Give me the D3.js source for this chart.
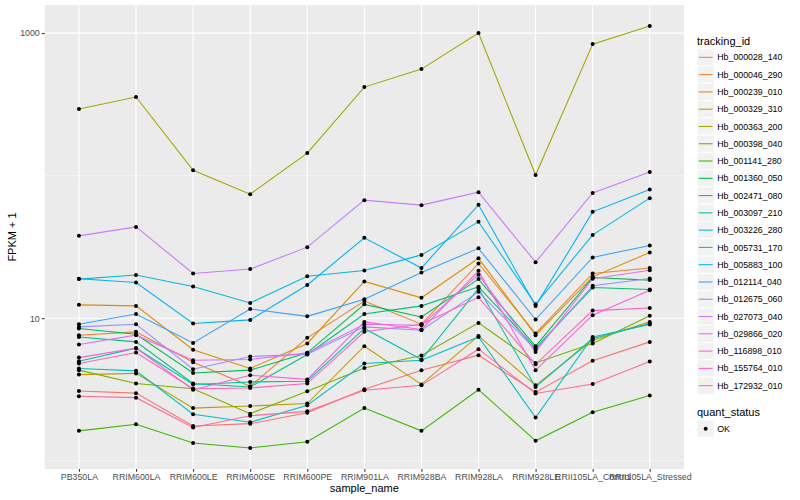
<!DOCTYPE html>
<html>
<head>
<meta charset="utf-8">
<script src="https://cdn.jsdelivr.net/npm/d3@7"></script>
<style>
  body { margin: 0; background: #fff; }
  svg { font-family: "Liberation Sans", Arial, sans-serif; }
</style>
</head>
<body>
<svg id="chart" width="800" height="500"></svg>
<script>
// samples on the x axis
const samples = ["PB350LA", "RRIM600LA", "RRIM600LE", "RRIM600SE", "RRIM600PE", "RRIM901LA",
  "RRIM928BA", "RRIM928LA", "RRIM928LE", "RRII105LA_Control", "RRII105LA_Stressed"]

const trackIds = ["Hb_000028_140", "Hb_000046_290", "Hb_000239_010", "Hb_000329_310", "Hb_000363_200",
  "Hb_000398_040", "Hb_001141_280", "Hb_001360_050", "Hb_002471_080", "Hb_003097_210",
  "Hb_003226_280", "Hb_005731_170", "Hb_005883_100", "Hb_012114_040", "Hb_012675_060",
  "Hb_027073_040", "Hb_029866_020", "Hb_116898_010", "Hb_155764_010", "Hb_172932_010"]

// FPKM + 1, one array per gene, in sample order
const hb000028_140 = [3.08, 2.98, 1.75, 1.82, 2.17, 3.17, 4.32, 5.50, 3.03, 5.02, 6.82]
const hb000046_290 = [7.60, 8.02, 4.91, 3.33, 7.28, 13.2, 9.07, 24.2, 7.81, 20.6, 22.5]
const hb000239_010 = [12.4, 12.2, 6.01, 4.44, 6.65, 18.1, 13.9, 26.3, 7.60, 19.5, 28.9]
const hb000329_310 = [4.02, 4.10, 2.34, 2.42, 2.52, 6.36, 3.43, 7.51, 3.38, 7.01, 9.42]
const hb000363_200 = [293, 356, 109, 74.1, 144, 418, 559, 1000, 101, 837, 1120]
const hb000398_040 = [4.32, 3.48, 3.20, 2.14, 3.07, 4.48, 5.47, 9.27, 4.85, 6.65, 10.4]
const hb001141_280 = [1.62, 1.80, 1.33, 1.23, 1.36, 2.34, 1.62, 3.15, 1.38, 2.19, 2.87]
const hb001360_050 = [8.47, 7.72, 4.13, 4.32, 5.71, 12.5, 10.2, 18.8, 6.36, 19.3, 18.5]
const hb002471_080 = [7.39, 6.82, 3.48, 3.29, 5.56, 10.7, 12.2, 16.6, 6.19, 16.4, 15.9]
const hb003097_210 = [4.99, 6.16, 3.43, 3.57, 3.61, 8.47, 5.13, 16.2, 3.29, 7.20, 9.17]
const hb003226_280 = [4.44, 4.27, 2.12, 1.86, 2.45, 4.81, 5.07, 7.39, 2.01, 7.39, 9.03]
const hb005731_170 = [18.8, 20.1, 16.7, 12.8, 19.7, 21.6, 27.8, 47.4, 12.5, 38.4, 69.5]
const hb005883_100 = [18.9, 17.8, 9.17, 9.73, 17.1, 36.6, 22.5, 62.4, 12.2, 55.7, 80.0]
const hb012114_040 = [9.07, 10.7, 6.71, 11.6, 10.3, 13.6, 20.9, 30.9, 9.79, 26.7, 32.4]
const hb012675_060 = [8.69, 9.07, 4.39, 5.38, 5.59, 8.69, 8.24, 15.3, 6.03, 16.9, 19.0]
const hb027073_040 = [37.8, 43.7, 20.6, 22.1, 31.5, 67.3, 62.1, 76.6, 24.7, 75.7, 106]
const hb029866_020 = [6.54, 7.60, 5.07, 5.13, 5.71, 9.07, 8.92, 20.2, 5.80, 18.9, 21.7]
const hb116898_010 = [5.29, 6.16, 3.15, 3.98, 3.72, 9.42, 8.33, 21.5, 4.32, 10.5, 15.7]
const hb155764_010 = [4.81, 5.75, 3.20, 3.24, 3.48, 8.02, 9.07, 14.0, 4.75, 11.3, 11.8]
const hb172932_010 = [2.83, 2.77, 1.71, 2.07, 2.22, 3.12, 3.38, 6.06, 2.96, 3.45, 4.97]

const seriesValues = [hb000028_140, hb000046_290, hb000239_010, hb000329_310, hb000363_200,
  hb000398_040, hb001141_280, hb001360_050, hb002471_080, hb003097_210,
  hb003226_280, hb005731_170, hb005883_100, hb012114_040, hb012675_060,
  hb027073_040, hb029866_020, hb116898_010, hb155764_010, hb172932_010]

const yTicks = [10, 1000]
const yMinor = [1, 100]
const statusLevels = ["OK"]

// ggplot style hue palette (polar LUV -> sRGB)
function hcl(h, c, l) {
    const hr = h * Math.PI / 180
    const U = c * Math.cos(hr), V = c * Math.sin(hr)
    const Xn = 95.047, Yn = 100, Zn = 108.883
    const den = Xn + 15 * Yn + 3 * Zn
    const un = 4 * Xn / den, vn = 9 * Yn / den
    const Y = Yn * (l > 8 ? Math.pow((l + 16) / 116, 3) : l / 903.3)
    const u = U / (13 * l) + un, v = V / (13 * l) + vn
    const X = 9 * Y * u / (4 * v)
    const Z = -X / 3 - 5 * Y + 3 * Y / v
    const x = X / 100, y = Y / 100, z = Z / 100
    const lin = [
        3.240479 * x - 1.537150 * y - 0.498535 * z,
        -0.969256 * x + 1.875992 * y + 0.041556 * z,
        0.055648 * x - 0.204043 * y + 1.057311 * z
    ]
    const rgb = lin.map(t => {
        const g = t <= 0.0031308 ? 12.92 * t : 1.055 * Math.pow(t, 1 / 2.4) - 0.055
        return Math.round(Math.max(0, Math.min(1, g)) * 255)
    })
    return d3.rgb(rgb[0], rgb[1], rgb[2]).formatHex()
}

const colors = trackIds.map((d, i) => hcl(15 + i * 360 / trackIds.length, 100, 65))
const color = d3.scaleOrdinal().domain(trackIds).range(colors)

const panel = { left: 44.7, right: 684, top: 5, bottom: 469 }

const svg = d3.select('#chart')

svg.append('rect')
    .attr('width', 800).attr('height', 500)
    .attr('fill', 'white')

const xScale = d3.scalePoint()
    .domain(samples)
    .range([panel.left, panel.right])
    .padding(0.6)

// log extent of the data, expanded by 5% like ggplot
const allVals = seriesValues.flat()
const lo = Math.log10(d3.min(allVals)), hi = Math.log10(d3.max(allVals))
const pad = (hi - lo) * 0.05
const yScale = d3.scaleLog()
    .domain([Math.pow(10, lo - pad), Math.pow(10, hi + pad)])
    .range([panel.bottom, panel.top])

svg.append('rect')
    .attr('x', panel.left).attr('y', panel.top)
    .attr('width', panel.right - panel.left)
    .attr('height', panel.bottom - panel.top)
    .attr('fill', '#EBEBEB')

// grid
const grid = svg.append('g')
grid.selectAll('.minor')
    .data(yMinor)
    .enter().append('line')
    .attr('x1', panel.left).attr('x2', panel.right)
    .attr('y1', d => yScale(d)).attr('y2', d => yScale(d))
    .attr('stroke', 'white').attr('stroke-width', 0.53)
grid.selectAll('.major')
    .data(yTicks)
    .enter().append('line')
    .attr('x1', panel.left).attr('x2', panel.right)
    .attr('y1', d => yScale(d)).attr('y2', d => yScale(d))
    .attr('stroke', 'white').attr('stroke-width', 1.07)
grid.selectAll('.vmajor')
    .data(samples)
    .enter().append('line')
    .attr('x1', d => xScale(d)).attr('x2', d => xScale(d))
    .attr('y1', panel.top).attr('y2', panel.bottom)
    .attr('stroke', 'white').attr('stroke-width', 1.07)

const line = d3.line()
    .x((d, i) => xScale(samples[i]))
    .y(d => yScale(d))

const lineGroup = svg.append('g')
lineGroup.selectAll('path')
    .data(seriesValues)
    .enter().append('path')
    .attr('d', line)
    .attr('fill', 'none')
    .attr('stroke', (d, i) => color(trackIds[i]))
    .attr('stroke-width', 1.07)

seriesValues.forEach(vals => {
    lineGroup.selectAll(null)
        .data(vals)
        .enter().append('circle')
        .attr('cx', (d, i) => xScale(samples[i]))
        .attr('cy', d => yScale(d))
        .attr('r', 2)
        .attr('fill', 'black')
})

// axes
const xAxis = d3.axisBottom(xScale).tickSize(2.75).tickPadding(2.2)
const xg = svg.append('g')
    .attr('transform', `translate(0, ${panel.bottom})`)
    .call(xAxis)
xg.select('.domain').remove()
xg.selectAll('.tick line').attr('stroke', '#333333').attr('stroke-width', 1.07)
xg.selectAll('.tick text').attr('fill', '#4D4D4D').style('font-size', '8.8px')

const yAxis = d3.axisLeft(yScale).tickValues(yTicks).tickFormat(d3.format('d')).tickSize(2.75).tickPadding(2.2)
const yg = svg.append('g')
    .attr('transform', `translate(${panel.left}, 0)`)
    .call(yAxis)
yg.select('.domain').remove()
yg.selectAll('.tick line').attr('stroke', '#333333').attr('stroke-width', 1.07)
yg.selectAll('.tick text').attr('fill', '#4D4D4D').style('font-size', '8.8px')

svg.append('text')
    .attr('x', (panel.left + panel.right) / 2)
    .attr('y', 492)
    .attr('text-anchor', 'middle')
    .style('font-size', '11px')
    .text('sample_name')

svg.append('text')
    .attr('transform', `translate(16, ${(panel.top + panel.bottom) / 2}) rotate(-90)`)
    .attr('text-anchor', 'middle')
    .style('font-size', '11px')
    .text('FPKM + 1')

// legend: tracking_id
const keySize = 17.28
const legX = 697, legY = 48.7
const legend = svg.append('g')
legend.append('text')
    .attr('x', legX).attr('y', 44.5)
    .style('font-size', '11px')
    .text('tracking_id')

const keys = legend.selectAll('.key')
    .data(trackIds)
    .enter().append('g')
    .attr('transform', (d, i) => `translate(${legX}, ${legY + i * keySize})`)
keys.append('rect')
    .attr('width', keySize).attr('height', keySize)
    .attr('fill', '#F2F2F2').attr('stroke', 'white').attr('stroke-width', 1)
keys.append('line')
    .attr('x1', 1.7).attr('x2', keySize - 1.7)
    .attr('y1', keySize / 2).attr('y2', keySize / 2)
    .attr('stroke', d => color(d)).attr('stroke-width', 1.07)
keys.append('text')
    .attr('x', keySize + 3).attr('y', keySize / 2 + 3.1)
    .style('font-size', '8.8px')
    .text(d => d)

// legend: quant_status
const qY = 420
legend.append('text')
    .attr('x', legX).attr('y', 416)
    .style('font-size', '11px')
    .text('quant_status')
const qKeys = legend.selectAll('.qkey')
    .data(statusLevels)
    .enter().append('g')
    .attr('transform', (d, i) => `translate(${legX}, ${qY + i * keySize})`)
qKeys.append('rect')
    .attr('width', keySize).attr('height', keySize)
    .attr('fill', '#F2F2F2').attr('stroke', 'white').attr('stroke-width', 1)
qKeys.append('circle')
    .attr('cx', keySize / 2).attr('cy', keySize / 2).attr('r', 2)
    .attr('fill', 'black')
qKeys.append('text')
    .attr('x', keySize + 3).attr('y', keySize / 2 + 3.1)
    .style('font-size', '8.8px')
    .text(d => d)
</script>
</body>
</html>
